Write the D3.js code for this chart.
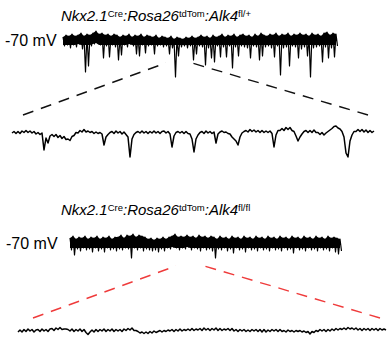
<!DOCTYPE html>
<html>
<head>
<meta charset="utf-8">
<script src="https://cdn.jsdelivr.net/npm/d3@7"></script>
<style>
  body { margin: 0; background: #fff; }
  text { font-family: "Liberation Sans", Arial, sans-serif; }
</style>
</head>
<body>
<script>
// genotype labels: [main text, superscript]
const titleTop = [["Nkx2.1", "Cre"], [":Rosa26", "tdTom"], [":Alk4", "fl/+"]];
const titleBottom = [["Nkx2.1", "Cre"], [":Rosa26", "tdTom"], [":Alk4", "fl/fl"]];
const holdLabel = "-70 mV";

// compressed trace, fl/+ : upper / lower envelope per bin (0 = baseline)
const hiA = [3, 5, 4, 6, 4, 5, 7, 4, 6, 5, 7, 9, 6, 7, 5, 6, 4, 6, 5, 3,
  5, 4, 6, 3, 5, 4, 6, 3, 5, 4, 3, 5, 2, 4, 3, 2, 4, 1, 3, 2,
  1, 3, 2, 4, 2, 3, 5, 3, 4, 2, 5, 3, 4, 6, 3, 5, 4, 6, 3, 5,
  6, 4, 5, 3, 6, 4, 7, 5, 4, 6, 5, 7, 4, 6, 5, 7, 4, 6, 5, 7,
  5, 6, 4, 7, 5, 6, 4, 7, 8, 5, 7, 6];
const loA = [-6, -5, -8, -5, -7, -4, -9, -32, -26, -6, -4, -3, -5, -18, -6, -17, -5, -7, -20, -15,
  -5, -7, -4, -6, -14, -16, -5, -13, -6, -5, -14, -6, -5, -7, -6, -14, -8, -37, -16, -7,
  -6, -8, -6, -20, -14, -6, -7, -25, -8, -18, -22, -6, -17, -7, -17, -6, -28, -7, -16, -6,
  -7, -8, -18, -6, -7, -20, -16, -7, -6, -8, -17, -6, -35, -8, -7, -26, -6, -7, -18, -9,
  -7, -16, -37, -8, -7, -6, -22, -7, -18, -8, -17, -6];

// expanded segment, fl/+
const zoomA = [0, 1.5, -0.5, 1.5, -0.5, 2, 0.5, 2.5, 0.5, 2,
  0, 1.5, -1, 0.5, -1.5, 0, -17, -5, -10, -3,
  -1.5, -3.5, -1.5, -4.5, -2.5, -5.5, -3.5, -6.5, -6, -7.5,
  -3.5, -2.5, 0.5, 0, 2.5, 1, 3.5, 1, 2, 0.5,
  1.5, -0.5, 1, -0.5, 0.5, -1, -12, -4, -1.5, 0.5,
  1.5, -0.5, 2, 0, 1.5, -1, 1, -1.5, -4, -24,
  -6, -1.5, 0.5, 1.5, 0, 2, 0, 1.5, -0.5, 1.5,
  0, 2, 0, 1.5, -0.5, 1.5, 2, 0, 1.5, -1,
  -14, -3, 0.5, 1.5, 0, 1.5, -0.5, 1.5, -0.5, -1,
  -6, -19, -6, -2, 0.5, 1.5, -0.5, 2, 0, 1.5,
  -0.5, 1, -10, -1, 1, 2, 0.5, 1, -0.5, -1,
  -4, -6, -8, -12, -4, 0, 1.5, 2.5, 1, 3.5,
  1.5, 3, 1, 2.5, 0.5, 2.5, 0.5, 2, 0.5, 2,
  -0.5, -14, -2, 2.5, 2.5, 4.5, 2.5, 5.5, 3.5, 5.5,
  2.5, 1.5, -3, -8, -4, -1, 1.5, 2.5, 0.5, 2.5,
  0.5, 3, 0.5, 0.5, -1.5, 0.5, -2, 0, 1.5, 3,
  4.5, 6.5, 7, 5, 4, 1.5, -4, -20, -24, -8,
  -2, 1.5, 1.5, 3.5, 1.5, 3.5, 1, 3, 0.5, 2.5,
  0.5, 2];

// compressed trace, fl/fl
const hiB = [4, 6, 3, 5, 4, 6, 3, 5, 4, 6, 3, 5, 4, 6, 3, 5, 5, 7, 4, 7,
  6, 8, 5, 7, 6, 5, 3, 4, 2, 4, 3, 5, 3, 5, 6, 8, 5, 6, 5, 7,
  5, 6, 4, 7, 5, 6, 4, 6, 5, 3, 6, 4, 5, 3, 6, 4, 5, 3, 6, 4,
  5, 3, 6, 4, 5, 3, 6, 4, 5, 3, 6, 4, 5, 3, 6, 4, 5, 3, 6, 4,
  5, 3, 6, 4, 5, 3, 6, 4, 5, 4, 3];
const loB = [-8, -13, -7, -9, -6, -8, -7, -10, -6, -9, -7, -10, -6, -8, -7, -9, -7, -8, -6, -7,
  -16, -6, -8, -6, -9, -7, -8, -9, -8, -10, -7, -9, -6, -7, -5, -6, -8, -6, -7, -5,
  -8, -6, -7, -9, -6, -8, -7, -9, -16, -7, -8, -6, -9, -7, -11, -6, -8, -7, -10, -6,
  -8, -7, -9, -6, -8, -7, -9, -6, -8, -7, -9, -6, -8, -7, -11, -6, -8, -7, -9, -6,
  -8, -7, -9, -6, -8, -7, -9, -6, -10, -12, -9];

// expanded segment, fl/fl
const zoomB = [-1, 1, -1, 1.5, -0.5, 2, 0, 1.5, -1, 1,
  1.5, -0.5, 2, 0, 1.5, -0.5, 2, 2.5, 0.5, 3,
  1.5, 3.5, 1.5, 2, 2, 1.5, 0, 2, -0.5, 1.5,
  0, 2, -0.5, 1.5, -1.5, -3.5, -1, 1, -1, 1.5,
  -0.5, 1.5, 0, 2, -0.5, 1.5, 0, 2, -0.5, 1.5,
  0, 1.5, -0.5, 2, 0.5, 2.5, 1, 3, 0.5, 0.5,
  -0.5, -2, -1, -2.5, -1, -2.5, -0.5, -2, 0, -1.5,
  -0.5, 0.5, -1, 0.5, -0.5, 1, 0, 1.5, -0.5, 1.5,
  0, 2, 0, 1.5, 0.5, 2, 0.5, 2.5, 0.5, 2,
  1, 2.5, 0.5, 3, 1, 2.5, 0.5, 2.5, 1, 3,
  0.5, 2.5, 0.5, 2, 1, 2.5, 0.5, 2.5, 0, 1.5,
  -0.5, 1.5, 0, 1.5, -0.5, 1, -0.5, 1.5, 0, 1.5,
  -0.5, 1.5, -1, 1.5, -1, 1, -0.5, 1.5, 0, 1.5,
  -0.5, 1.5, -0.5, 0.5, -1, 1, -0.5, 0.5, -1, 0.5,
  -0.5, 0.5, -1, 0, -1.5, -0.5, -3, -0.5, -1.5, 0.5,
  -0.5, 1.5, 0, 1.5, -0.5, 1.5, 0, 2, 0.5, 2.5,
  1, 2.5, 1.5, 3, 1.5, 3.5, 2, 3, 1.5, 3,
  1, 2.5, 0.5, 2.5, 1, 2.5, 0.5, 2.5, 1, 2.5,
  0.5, 2.5, 1, 2, 1];

// bins of the compressed trace shown expanded below it
const windowA = [34.3, 43];
const windowB = [35.3, 44.7];

const width = 388;
const height = 340;

const svg = d3.select("body")
  .append("svg")
  .attr("xmlns", "http://www.w3.org/2000/svg")
  .attr("width", width)
  .attr("height", height);

svg.append("rect").attr("width", "100%").attr("height", "100%").attr("fill", "white");

function title(parts, x, y) {
  const t = svg.append("text")
    .attr("x", x).attr("y", y)
    .attr("font-size", 15)
    .attr("fill", "#000");
  parts.forEach(function (p, i) {
    t.append("tspan")
      .attr("font-style", "italic")
      .attr("dy", i === 0 ? 0 : 4)
      .text(p[0]);
    t.append("tspan")
      .attr("font-size", 9.5)
      .attr("dy", -4)
      .text(p[1]);
  });
}

function label(txt, x, y) {
  svg.append("text")
    .attr("x", x).attr("y", y)
    .attr("font-size", 16)
    .attr("fill", "#000")
    .text(txt);
}

// dense trace: filled core between envelopes plus zig-zag for the events
function band(hi, lo, xRange, yRef, core) {
  const x = d3.scaleLinear().domain([0, hi.length - 1]).range(xRange);
  const y = d3.scaleLinear().domain([0, 10]).range([yRef, yRef - 10]);

  svg.append("path")
    .datum(hi)
    .attr("fill", "#000")
    .attr("d", d3.area()
      .x((d, i) => x(i))
      .y0((d, i) => y(Math.max(lo[i], -core)))
      .y1(d => y(d)));

  const pts = [];
  hi.forEach(function (h, i) {
    pts.push([x(i), y(h)]);
    pts.push([x(i + 0.5), y(lo[i])]);
  });
  svg.append("path")
    .attr("d", d3.line()(pts))
    .attr("fill", "none")
    .attr("stroke", "#000")
    .attr("stroke-width", 1.2)
    .attr("stroke-linejoin", "round");
  return x;
}

function trace(values, xRange, yRef) {
  const x = d3.scaleLinear().domain([0, values.length - 1]).range(xRange);
  const y = d3.scaleLinear().domain([0, 10]).range([yRef, yRef - 10]);
  svg.append("path")
    .datum(values)
    .attr("fill", "none")
    .attr("stroke", "#000")
    .attr("stroke-width", 1.5)
    .attr("stroke-linejoin", "round")
    .attr("d", d3.line().x((d, i) => x(i)).y(d => y(d)));
}

function connector(x, win, yTop, xBot, yBot, color) {
  [[x(win[0]), xBot[0]], [x(win[1]), xBot[1]]].forEach(function (p) {
    svg.append("line")
      .attr("x1", p[1]).attr("y1", yBot)
      .attr("x2", p[0]).attr("y2", yTop)
      .attr("stroke", color)
      .attr("stroke-width", 1.4)
      .attr("stroke-dasharray", "11,8");
  });
}

// fl/+
title(titleTop, 61, 21);
label(holdLabel, 5, 46);
const xA = band(hiA, loA, [63, 336], 40, 5);
connector(xA, windowA, 63, [23, 368], 115, "#111");
trace(zoomA, [12, 374], 133);

// fl/fl
title(titleBottom, 61, 215);
label(holdLabel, 6, 249);
const xB = band(hiB, loB, [70, 340], 242, 6);
connector(xB, windowB, 266, [33, 380], 318, "#ef3b3b");
trace(zoomB, [18, 386], 331);
</script>
</body>
</html>
